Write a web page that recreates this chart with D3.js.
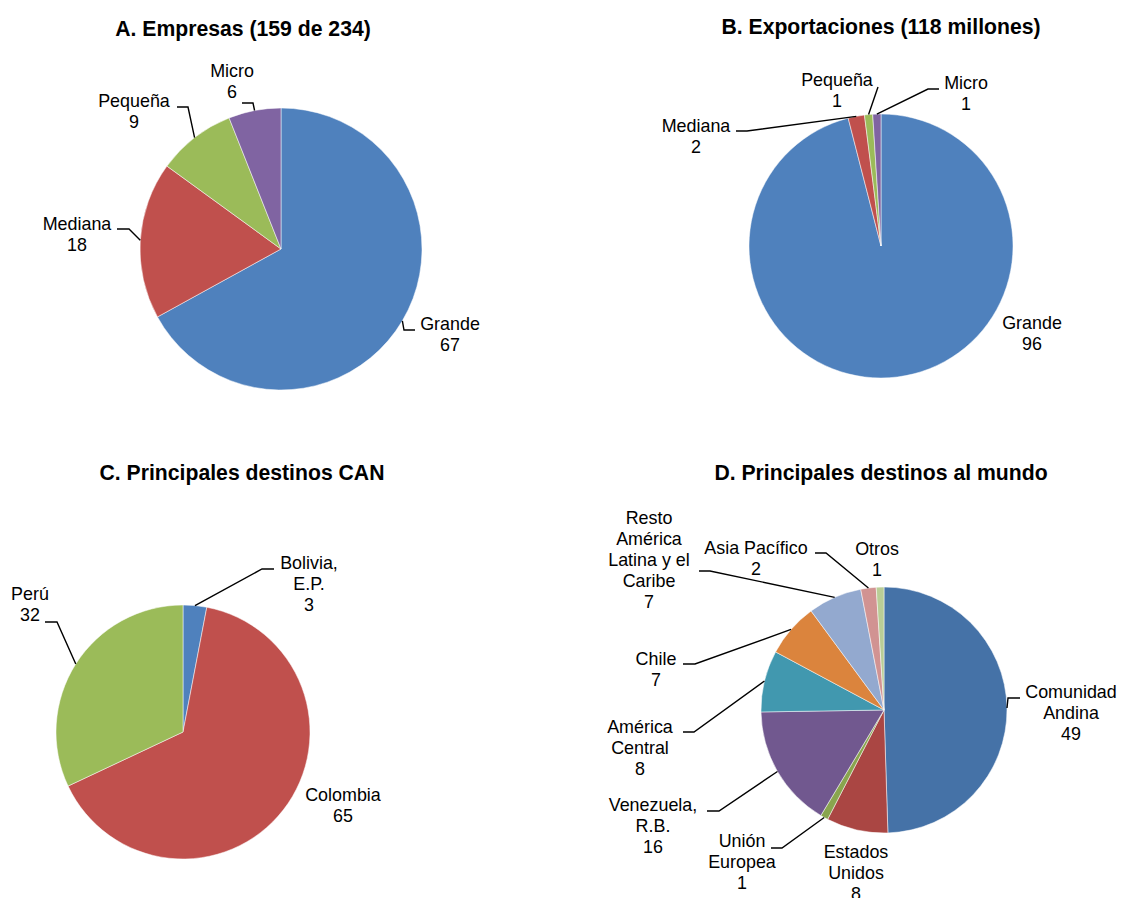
<!DOCTYPE html>
<html>
<head>
<meta charset="utf-8">
<script src="https://cdn.jsdelivr.net/npm/d3@7"></script>
<style>
  html, body { margin: 0; padding: 0; background: #fff; }
  svg { display: block; }
  text { font-family: "Liberation Sans", Arial, sans-serif; fill: #000; }
</style>
</head>
<body>
<svg id="chart" width="1121" height="898"></svg>
<script>
// ---- Panel A: firms by size ----
const titleA = "A. Empresas (159 de 234)";
const categoriesA = ["Grande", "Mediana", "Pequeña", "Micro"];
const valuesA = [67, 18, 9, 6];

// ---- Panel B: exports by firm size ----
const titleB = "B. Exportaciones (118 millones)";
const categoriesB = ["Grande", "Mediana", "Pequeña", "Micro"];
const valuesB = [96, 2, 1, 1];

// ---- Panel C: main CAN destinations ----
const titleC = "C. Principales destinos CAN";
const categoriesC = ["Bolivia,\nE.P.", "Colombia", "Perú"];
const valuesC = [3, 65, 32];

// ---- Panel D: main world destinations ----
const titleD = "D. Principales destinos al mundo";
const categoriesD = ["Comunidad\nAndina", "Estados\nUnidos", "Unión\nEuropea", "Venezuela,\nR.B.",
                     "América\nCentral", "Chile", "Resto\nAmérica\nLatina y el\nCaribe", "Asia Pacífico", "Otros"];
const valuesD = [49, 8, 1, 16, 8, 7, 7, 2, 1];

// ---- palettes ----
const paletteSize = ["#4F81BD", "#C0504D", "#9BBB59", "#8064A2"];
const paletteWorld = ["#4572A7", "#AA4643", "#89A54E", "#71588F", "#4198AF", "#DB843D", "#93A9CF", "#D19392", "#B9CD96"];

// ---- layout: pie centre/radius, title anchor, label anchors and leader stubs ----
const layoutA = {
  cx: 281, cy: 249, r: 141, tx: 243, ty: 36,
  labels: [
    { x: 450, y: 324, stub: [[415, 330], [404, 330]] },
    { x: 77,  y: 224, stub: [[117, 229], [129, 229]] },
    { x: 134, y: 101, stub: [[177, 107], [188, 107]] },
    { x: 232, y: 71,  stub: [[242, 103], [253, 103]] }
  ]
};
const layoutB = {
  cx: 881, cy: 246, r: 132, tx: 881, ty: 34,
  labels: [
    { x: 1032, y: 323, stub: null },
    { x: 696,  y: 126, stub: [[736, 131], [747, 131]] },
    { x: 837,  y: 80,  stub: [[878, 87]] },
    { x: 966,  y: 83,  stub: [[939, 89], [928, 89]] }
  ]
};
const layoutC = {
  cx: 183, cy: 732, r: 127, tx: 242, ty: 480,
  labels: [
    { x: 309, y: 563, stub: [[274, 569], [262, 569]] },
    { x: 343, y: 795, stub: null },
    { x: 30,  y: 594, stub: [[45, 622], [57, 622]] }
  ]
};
const layoutD = {
  cx: 884, cy: 710, r: 123, tx: 881, ty: 480,
  labels: [
    { x: 1071, y: 692, stub: [[1020, 698], [1008, 698]] },
    { x: 856,  y: 852, stub: null },
    { x: 742,  y: 841, stub: [[771, 848], [782, 848]] },
    { x: 653,  y: 805, stub: [[707, 811], [719, 811]] },
    { x: 640,  y: 727, stub: [[683, 732], [694, 732]] },
    { x: 656,  y: 659, stub: [[683, 664], [695, 664]] },
    { x: 649,  y: 518, stub: [[699, 571], [710, 571]] },
    { x: 756,  y: 548, stub: [[815, 553], [826, 553]] },
    { x: 877,  y: 549, stub: null }
  ]
};

const LABEL_SIZE = 17.9;
const LINE_H = 20.9;
const TITLE_SIZE = 21.2;

const svg = d3.select("#chart");

function drawPie(title, categories, values, colors, L) {
  const rows = categories.map((c, i) => ({ name: c, value: values[i] }));
  const pie = d3.pie().sort(null).value(d => d.value);
  const arcs = pie(rows);
  const arc = d3.arc().innerRadius(0).outerRadius(L.r);
  const rim = d3.arc().innerRadius(L.r).outerRadius(L.r);

  svg.append("text")
    .attr("x", L.tx).attr("y", L.ty)
    .attr("text-anchor", "middle")
    .style("font-size", TITLE_SIZE + "px")
    .style("font-weight", "bold")
    .text(title);

  const g = svg.append("g").attr("transform", `translate(${L.cx},${L.cy})`);
  g.selectAll("path.slice").data(arcs).join("path")
    .attr("class", "slice")
    .attr("d", arc)
    .attr("fill", (d, i) => colors[i])
    .attr("stroke", "#ffffff")
    .attr("stroke-width", 0.5);

  // leader lines: label stub -> rim at the slice's mid-angle
  const line = d3.line();
  arcs.forEach((d, i) => {
    const lab = L.labels[i];
    if (!lab.stub) return;
    const c = rim.centroid(d);
    const pts = lab.stub.concat([[L.cx + c[0], L.cy + c[1]]]);
    svg.append("path")
      .attr("d", line(pts))
      .attr("fill", "none")
      .attr("stroke", "#000")
      .attr("stroke-width", 1.4);
  });

  // data labels: category name lines + value
  arcs.forEach((d, i) => {
    const lab = L.labels[i];
    const lines = d.data.name.split("\n").concat([String(d.data.value)]);
    const t = svg.append("text")
      .attr("text-anchor", "middle")
      .style("font-size", LABEL_SIZE + "px");
    lines.forEach((s, k) => {
      t.append("tspan")
        .attr("x", lab.x)
        .attr("y", lab.y + k * LINE_H)
        .attr("dy", "0.35em")
        .text(s);
    });
  });
}

drawPie(titleA, categoriesA, valuesA, paletteSize, layoutA);
drawPie(titleB, categoriesB, valuesB, paletteSize, layoutB);
drawPie(titleC, categoriesC, valuesC, paletteSize, layoutC);
drawPie(titleD, categoriesD, valuesD, paletteWorld, layoutD);
</script>
</body>
</html>
